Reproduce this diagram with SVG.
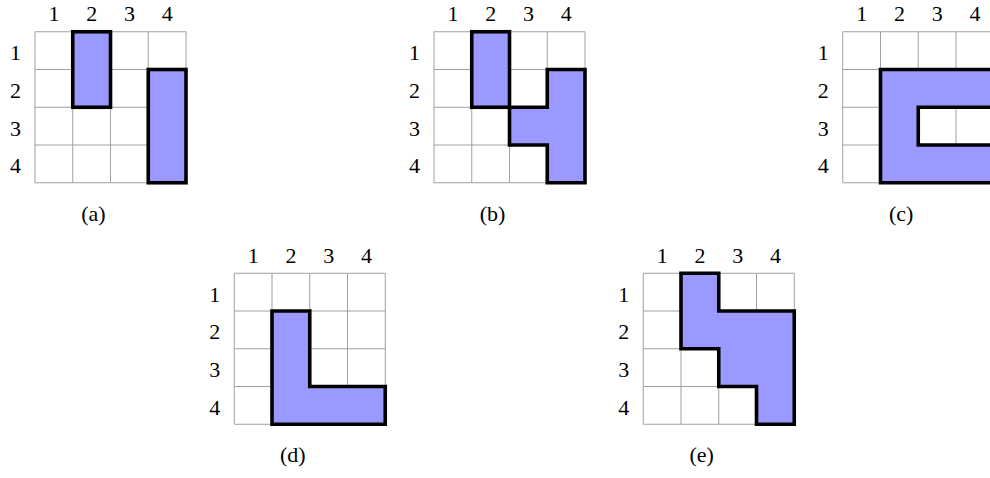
<svg xmlns="http://www.w3.org/2000/svg" width="990" height="478" viewBox="0 0 990 478" font-family="'Liberation Serif', 'DejaVu Serif', serif" font-size="22">
<style>
.bg{fill:#ffffff}
.grid{fill:none;stroke:#a0a0a0;stroke-width:1}
.shape{fill:#9999ff;stroke:#000000;stroke-width:3.6;stroke-linejoin:miter}
text{fill:#000;text-anchor:middle}
</style>
<defs>
<g id="grid4">
<rect class="bg" x="0" y="0" width="151" height="151"/>
<path class="grid" d="M0,0H151M0,37.75H151M0,75.5H151M0,113.25H151M0,151H151M0,0V151M37.75,0V151M75.5,0V151M113.25,0V151M151,0V151"/>
</g>
<g id="labels" font-family="'Liberation Serif', 'DejaVu Serif', serif" font-size="22">
<text x="18.875" y="-10.5">1</text>
<text x="56.625" y="-10.5">2</text>
<text x="94.375" y="-10.5">3</text>
<text x="132.125" y="-10.5">4</text>
<text x="-19.5" y="28.4">1</text>
<text x="-19.5" y="66.1">2</text>
<text x="-19.5" y="103.9">3</text>
<text x="-19.5" y="141.6">4</text>
</g>
</defs>
<rect x="0" y="0" width="990" height="478" fill="#ffffff"/>

<g id="panel-a" transform="translate(35,31.75)">
<use href="#grid4"/>
<use href="#labels"/>
<rect class="shape" x="37.75" y="0" width="37.75" height="75.5"/>
<rect class="shape" x="113.25" y="37.75" width="37.75" height="113.25"/>
<text x="58.5" y="189">(a)</text>
</g>

<g id="panel-b" transform="translate(434,31.75)">
<use href="#grid4"/>
<use href="#labels"/>
<rect class="shape" x="37.75" y="0" width="37.75" height="75.5"/>
<polygon class="shape" points="113.25,37.75 151,37.75 151,151 113.25,151 113.25,113.25 75.5,113.25 75.5,75.5 113.25,75.5"/>
<text x="58.5" y="189">(b)</text>
</g>

<g id="panel-c" transform="translate(842.75,31.75)">
<use href="#grid4"/>
<use href="#labels"/>
<polygon class="shape" points="37.75,37.75 151,37.75 151,75.5 75.5,75.5 75.5,113.25 151,113.25 151,151 37.75,151"/>
<text x="58.5" y="189">(c)</text>
</g>

<g id="panel-d" transform="translate(234.25,273.25)">
<use href="#grid4"/>
<use href="#labels"/>
<polygon class="shape" points="37.75,37.75 75.5,37.75 75.5,113.25 151,113.25 151,151 37.75,151"/>
<text x="58.5" y="189">(d)</text>
</g>

<g id="panel-e" transform="translate(643.25,273.25)">
<use href="#grid4"/>
<use href="#labels"/>
<polygon class="shape" points="37.75,0 75.5,0 75.5,37.75 151,37.75 151,151 113.25,151 113.25,113.25 75.5,113.25 75.5,75.5 37.75,75.5"/>
<text x="58.5" y="189">(e)</text>
</g>

<g id="connectors"></g>
</svg>
